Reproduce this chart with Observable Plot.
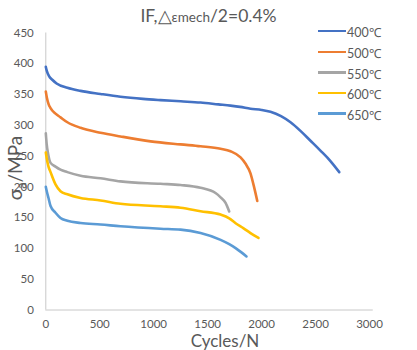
<!DOCTYPE html>
<html>
<head>
<meta charset="utf-8">
<script src="https://cdn.jsdelivr.net/npm/d3@7"></script>
<script src="https://cdn.jsdelivr.net/npm/@observablehq/plot@0.6"></script>
<style>
  html, body { margin: 0; padding: 0; background: #fff; }
  #wrap { position: relative; width: 417px; height: 350px; font-family: Lato, "Open Sans", sans-serif; color: #595959; }
  #wrap svg { position: absolute; left: 0; top: 0; }
  .title { position: absolute; top: 5px; left: 0; width: 417px; text-align: center; font-size: 17.5px; }
  .title .sub { font-size: 13.5px; }
  .leg { position: absolute; left: 318px; font-size: 12.5px; line-height: 14px; white-space: nowrap; }
  .leg i { display: inline-block; width: 28px; height: 2.5px; vertical-align: middle; margin-right: 1px; position: relative; top: -3px; }
  .xlab { position: absolute; top: 330px; left: 0; width: 450px; text-align: center; font-size: 17px; }
  .ylab { position: absolute; left: 16px; top: 168px; transform: translate(-50%, -50%) rotate(-90deg); font-size: 19px; white-space: nowrap; }
  .ylab sub { font-size: 12.5px; }
</style>
</head>
<body>
<div id="wrap"></div>
<script>
const seriesNames = ["400℃", "500℃", "550℃", "600℃", "650℃"];
const seriesColors = ["#4472C4", "#ED7D31", "#A5A5A5", "#FFC000", "#5B9BD5"];

const cycles400 = [0, 10, 30, 60, 100, 200, 322, 507, 692, 900, 1063, 1250, 1434, 1600, 1712, 1800, 1897, 2000, 2082, 2180, 2268, 2360, 2453, 2545, 2638, 2720];
const stress400 = [395, 388, 380, 374, 368, 361, 356, 351, 346.5, 343, 341, 339, 337, 334, 332, 330, 327, 325, 322, 315, 305, 291, 275, 259, 242, 224];

const cycles500 = [0, 10, 25, 44, 90, 136, 200, 322, 507, 692, 971, 1249, 1434, 1620, 1712, 1805, 1850, 1897, 1930, 1960];
const stress500 = [355, 345, 335, 328, 319, 313, 305, 296, 288, 282, 274, 269, 266, 262, 258, 248, 238, 222, 200, 177];

const cycles550 = [0, 8, 20, 44, 90, 136, 200, 322, 507, 692, 1063, 1249, 1434, 1573, 1620, 1666, 1700];
const stress550 = [287, 270, 255, 239, 233, 228, 224, 218, 214, 209, 205, 203, 198.5, 190, 183, 174, 160];

const cycles600 = [0, 10, 25, 44, 90, 136, 200, 322, 507, 692, 1063, 1249, 1434, 1620, 1700, 1759, 1830, 1897, 1971];
const stress600 = [256, 245, 233, 224, 204, 193, 188, 182, 178, 172.5, 168.5, 166, 160.5, 155, 149, 141, 133, 125, 117];

const cycles650 = [0, 10, 25, 44, 90, 136, 200, 322, 507, 692, 1063, 1249, 1434, 1620, 1700, 1759, 1810, 1860];
const stress650 = [200, 192, 182, 169, 158, 149.5, 145, 141.4, 139, 136, 132, 130.6, 125, 114, 107, 100.6, 94, 87];

const xTicks = [0, 500, 1000, 1500, 2000, 2500, 3000];
const yTicks = [0, 50, 100, 150, 200, 250, 300, 350, 400, 450];

const allCycles = [cycles400, cycles500, cycles550, cycles600, cycles650];
const allStress = [stress400, stress500, stress550, stress600, stress650];

const data = [];
seriesNames.forEach((name, i) => {
  allCycles[i].forEach((c, j) => data.push({series: name, cycles: c, stress: allStress[i][j]}));
});

const plot = Plot.plot({
  width: 417,
  height: 350,
  marginLeft: 45.3,
  marginRight: 48,
  marginTop: 32.5,
  marginBottom: 40.5,
  style: {fontFamily: "Lato, 'Open Sans', sans-serif", fontSize: "11.5px", color: "#595959", background: "#fff"},
  x: {domain: [0, 3000], ticks: xTicks, tickFormat: d => String(d), tickSize: 0, tickPadding: 10, label: null},
  y: {domain: [0, 450], ticks: yTicks, tickFormat: d => String(d), tickSize: 0, tickPadding: 12, label: null},
  color: {domain: seriesNames, range: seriesColors},
  marks: [
    Plot.ruleX([0], {y1: 0, y2: 450, stroke: "#c8c8c8", strokeWidth: 1}),
    Plot.ruleY([0], {x1: 0, x2: 3035, stroke: "#c8c8c8", strokeWidth: 1}),
    Plot.line(data, {x: "cycles", y: "stress", z: "series", stroke: "series", strokeWidth: 2.6, curve: "monotone-x"})
  ]
});

const wrap = document.getElementById("wrap");
wrap.appendChild(plot);

const title = document.createElement("div");
title.className = "title";
title.innerHTML = 'IF,△<span class="sub">εmech</span>/2=0.4%';
wrap.appendChild(title);

const legTops = [33.3, 54, 74.5, 95, 115.7];
seriesNames.forEach((name, i) => {
  const d = document.createElement("div");
  d.className = "leg";
  d.style.top = (legTops[i] - 7) + "px";
  d.innerHTML = `<i style="background:${seriesColors[i]}"></i>${name}`;
  wrap.appendChild(d);
});

const xl = document.createElement("div");
xl.className = "xlab";
xl.textContent = "Cycles/N";
wrap.appendChild(xl);

const yl = document.createElement("div");
yl.className = "ylab";
yl.innerHTML = 'σ<sub>a</sub>/MPa';
wrap.appendChild(yl);
</script>
</body>
</html>
